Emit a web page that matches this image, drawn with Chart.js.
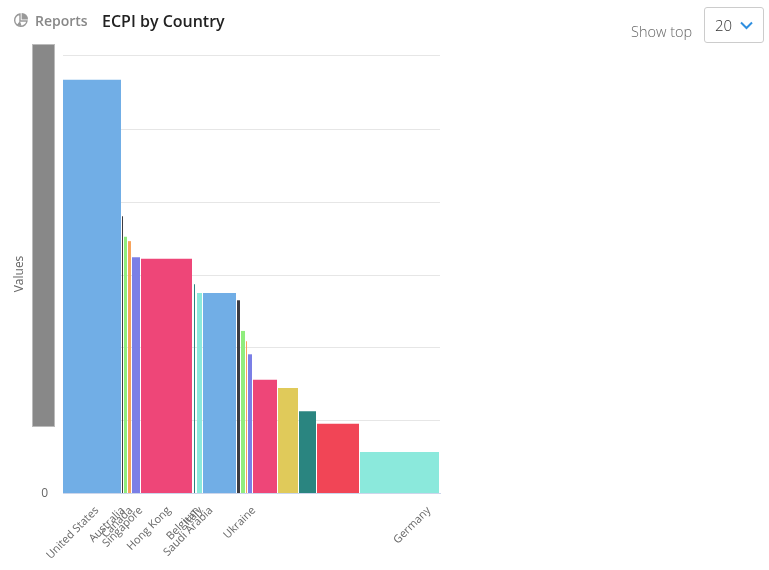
<!DOCTYPE html>
<html>
<head>
<meta charset="utf-8">
<title>ECPI by Country</title>
<script src="https://cdn.jsdelivr.net/npm/chart.js@4/dist/chart.umd.js"></script>
<style>
  html, body { margin: 0; padding: 0; background: #fff; font-family: "Open Sans", sans-serif; }
  #page { position: relative; width: 769px; height: 570px; overflow: hidden; }
  #chart { position: absolute; left: 0; top: 0; }
  .abs { position: absolute; white-space: nowrap; }
  #reports { left: 35px; top: 11px; font-size: 14px; font-weight: 600; color: #888; }
  #title { left: 102px; top: 10px; font-size: 16px; font-weight: 600; color: #222; }
  #showTop { left: 631px; top: 22px; font-size: 14.5px; font-weight: 300; color: #666; }
  #select { left: 704px; top: 7px; width: 58px; height: 34px; border: 1px solid #ccc; border-radius: 3px; }
  #selectValue { left: 10px; top: 7px; font-size: 15px; font-weight: 300; color: #333; }
  #scrollbar { left: 32px; top: 44px; width: 21px; height: 381px; background: #888; border: 1px solid #bbb; }
</style>
</head>
<body>
<div id="page">
  <canvas id="chart" width="769" height="570"></canvas>
  <svg class="abs" style="left:13px;top:12px" width="16" height="16" viewBox="0 0 16 16">
    <path d="M7 2 A6.2 6.2 0 1 0 14 9 L7 9 Z" fill="none" stroke="#999" stroke-width="1.4"/>
    <path d="M8.6 1 A6.2 6.2 0 0 1 15 7.4 L8.6 7.4 Z" fill="#999"/>
    <path d="M7 9 L3.4 13.6 L8.6 14 Z" fill="#999"/>
  </svg>
  <div class="abs" id="reports">Reports</div>
  <div class="abs" id="title">ECPI by Country</div>
  <div class="abs" id="showTop">Show top</div>
  <div class="abs" id="select">
    <div class="abs" id="selectValue">20</div>
    <svg class="abs" style="left:35px;top:13px" width="13" height="9" viewBox="0 0 13 9">
      <path d="M1 1.5 L6.5 7 L12 1.5" fill="none" stroke="#2f8fe0" stroke-width="2"/>
    </svg>
  </div>
  <div class="abs" id="scrollbar"></div>
</div>
<script>
// ===============================
// DATA
// ===============================
const barWidths = [59, 2, 4, 4, 9, 52, 1, 2, 1, 6, 34, 4, 5, 2, 5, 25, 21, 18, 43, 80];
const barValues = [56.6, 37.9, 35.1, 34.5, 32.3, 32.1, 30, 28.6, 28, 27.4, 27.4, 26.4, 22.2, 20.8, 19, 15.5, 14.4, 11.2, 9.5, 5.6];
const palette = ['#71aee6', '#3c3c42', '#90ed7d', '#f7a35c', '#7b7fe6', '#ee4678', '#e0ca5a', '#2a8580', '#f14556', '#8be9dc'];

const tickNames = ['United States', 'Australia', 'Canada', 'Singapore', 'Hong Kong', 'Belgium', 'Italy', 'Saudi Arabia', 'Ukraine', 'Germany'];
const tickSpots = [34, 60, 68, 78, 106, 135, 138, 148, 191, 366];
const gridSteps = [0, 10, 20, 29.8, 39.8, 49.8, 60];

// ===============================
// BARS (variable width, so each one is a filled line segment)
// ===============================
function buildDatasets() {
  let start = 0;
  return barValues.map((value, i) => {
    const left = start;
    start += barWidths[i];
    return {
      data: [{ x: left, y: value }, { x: start - 1, y: value }],
      backgroundColor: palette[i % palette.length],
      borderWidth: 0,
      pointRadius: 0,
      fill: 'origin'
    };
  });
}

new Chart(document.getElementById('chart').getContext('2d'), {
  type: 'line',
  data: { datasets: buildDatasets() },
  options: {
    responsive: false,
    animation: false,
    layout: { padding: { top: 55, right: 329, left: 0, bottom: 0 } },
    plugins: { legend: { display: false }, tooltip: { enabled: false } },
    scales: {
      x: {
        type: 'linear',
        min: 0,
        max: 377,
        grid: { display: false },
        border: { color: '#ccd6eb' },
        afterBuildTicks: scale => { scale.ticks = tickSpots.map(v => ({ value: v })); },
        afterFit: scale => { scale.height = 77; },
        ticks: {
          autoSkip: false,
          minRotation: 45,
          maxRotation: 45,
          color: '#666',
          padding: 3,
          font: { family: 'Open Sans', size: 11 },
          callback: (value, index) => tickNames[index]
        }
      },
      y: {
        min: 0,
        max: 60,
        grid: { color: '#e6e6e6', drawTicks: false },
        border: { display: false },
        afterBuildTicks: scale => { scale.ticks = gridSteps.map(v => ({ value: v })); },
        afterFit: scale => { scale.width = 63; },
        ticks: {
          padding: 15,
          labelOffset: 1,
          color: '#666',
          font: { family: 'Open Sans', size: 12 },
          callback: value => (value === 0 ? '0' : '')
        },
        title: {
          display: true,
          text: 'Values',
          color: '#666',
          padding: { top: 12, bottom: 0 },
          font: { family: 'Open Sans', size: 12 }
        }
      }
    }
  }
});
</script>
</body>
</html>
